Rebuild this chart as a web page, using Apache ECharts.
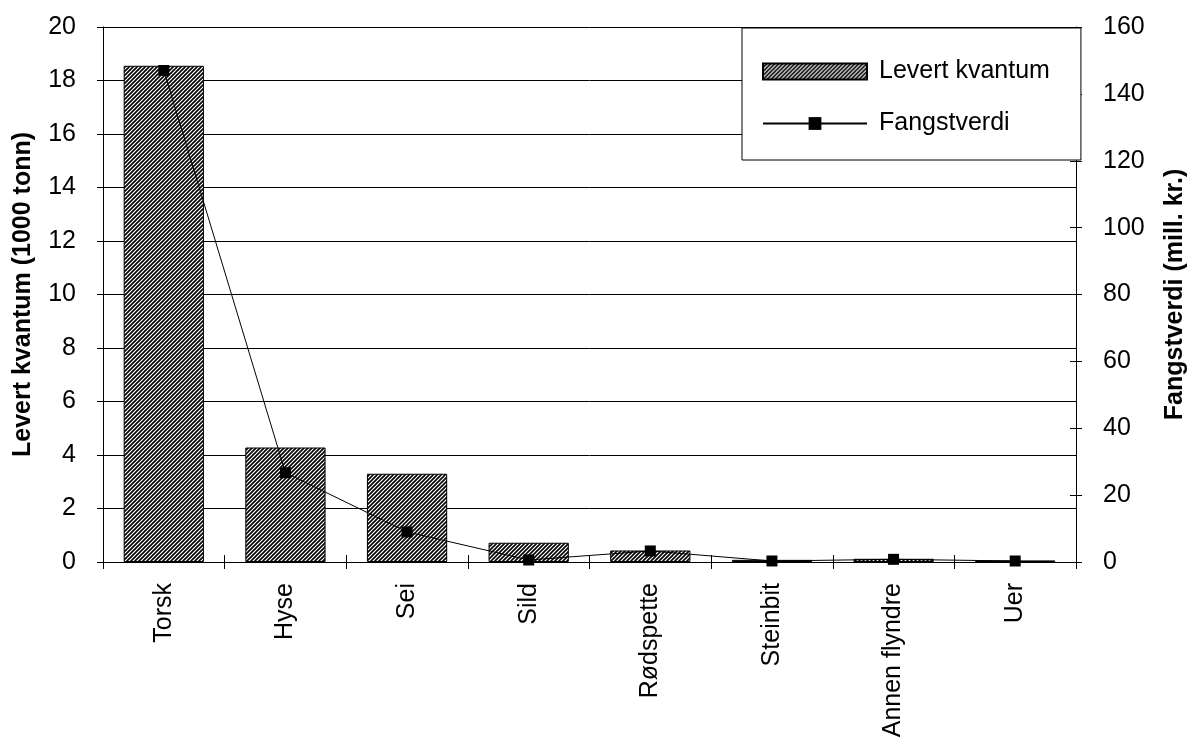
<!DOCTYPE html>
<html>
<head>
<meta charset="utf-8">
<script src="https://cdn.jsdelivr.net/npm/echarts@6/dist/echarts.min.js"></script>
<style>
  html, body { margin: 0; padding: 0; background: #fff; }
  #chart { width: 1196px; height: 749px; }
</style>
</head>
<body>
<div id="chart"></div>
<script>
// Fish species landed
const categories = ['Torsk', 'Hyse', 'Sei', 'Sild', 'Rødspette', 'Steinbit', 'Annen flyndre', 'Uer'];
// Landed quantity, 1000 tonnes (left axis)
const levertKvantum = [18.55, 4.28, 3.3, 0.72, 0.43, 0.08, 0.12, 0.06];
// Catch value, million NOK (right axis)
const fangstverdi = [147, 26.7, 9, 0.6, 3.3, 0.3, 0.8, 0.3];
// Axis ranges
const leftMax = 20, leftStep = 2;
const rightMax = 160, rightStep = 20;

// Diagonal hatch fill for the bars
function hatchPattern() {
  const c = document.createElement('canvas');
  c.width = 4; c.height = 4;
  const g = c.getContext('2d');
  g.fillStyle = '#fff';
  g.fillRect(0, 0, 4, 4);
  g.strokeStyle = '#000';
  g.lineWidth = 1.6;
  g.beginPath();
  g.moveTo(-1, 1); g.lineTo(1, -1);
  g.moveTo(0, 4); g.lineTo(4, 0);
  g.moveTo(3, 5); g.lineTo(5, 3);
  g.stroke();
  return c;
}
const hatch = { image: hatchPattern(), repeat: 'repeat' };

const FONT = '"Liberation Sans", Arial, sans-serif';
const chart = echarts.init(document.getElementById('chart'), null, { renderer: 'canvas' });

chart.setOption({
  animation: false,
  backgroundColor: '#fff',
  textStyle: { fontFamily: FONT, color: '#000' },
  grid: { left: 103, right: 113, top: 27, bottom: 187, containLabel: false },
  legend: {
    left: 742, top: 28,
    orient: 'vertical',
    backgroundColor: '#fff',
    borderColor: '#000', borderWidth: 1,
    padding: [31, 31, 24, 20],
    itemWidth: 104, itemHeight: 16, itemGap: 27,
    textStyle: { fontSize: 25, color: '#000', fontFamily: FONT, padding: [0, 0, 0, 7] },
    data: [{ name: 'Levert kvantum', icon: 'rect' }, { name: 'Fangstverdi' }]
  },
  xAxis: [{
    type: 'category',
    data: categories,
    axisLine: { lineStyle: { color: '#000', width: 1 } },
    axisTick: { show: true, length: 7, lineStyle: { color: '#000' } },
    axisLabel: { rotate: 90, fontSize: 25, color: '#000', margin: 21, fontFamily: FONT }
  }, {
    type: 'category',
    data: categories,
    position: 'bottom',
    axisLine: { show: false },
    axisTick: { show: true, inside: true, length: 7, lineStyle: { color: '#000' } },
    axisLabel: { show: false }
  }],
  yAxis: [{
    type: 'value',
    min: 0, max: leftMax, interval: leftStep,
    name: 'Levert kvantum (1000 tonn)',
    nameLocation: 'middle', nameGap: 67,
    nameTextStyle: { fontSize: 25, fontWeight: 'bold', color: '#000', fontFamily: FONT },
    axisLine: { show: true, lineStyle: { color: '#000', width: 1 } },
    axisTick: { show: true, length: 6, lineStyle: { color: '#000' } },
    axisLabel: { fontSize: 25, color: '#000', margin: 27, fontFamily: FONT },
    splitLine: { show: true, lineStyle: { color: '#000', width: 1 } }
  }, {
    type: 'value',
    position: 'right',
    min: 0, max: rightMax, interval: rightStep,
    name: 'Fangstverdi (mill. kr.)',
    nameLocation: 'middle', nameGap: 87, nameRotate: 90,
    nameTextStyle: { fontSize: 25, fontWeight: 'bold', color: '#000', fontFamily: FONT },
    axisLine: { show: true, lineStyle: { color: '#000', width: 1 } },
    axisTick: { show: true, length: 6, lineStyle: { color: '#000' } },
    axisLabel: { fontSize: 25, color: '#000', margin: 27, fontFamily: FONT },
    splitLine: { show: false }
  }, {
    type: 'value',
    position: 'right',
    min: 0, max: rightMax, interval: rightStep,
    axisLine: { show: false },
    axisTick: { show: true, inside: true, length: 6, lineStyle: { color: '#000' } },
    axisLabel: { show: false },
    splitLine: { show: false }
  }],
  series: [{
    name: 'Levert kvantum',
    type: 'bar',
    data: levertKvantum,
    xAxisIndex: 0, yAxisIndex: 0,
    barCategoryGap: '34%',
    itemStyle: { color: hatch, borderColor: '#000', borderWidth: 1 }
  }, {
    name: 'Fangstverdi',
    type: 'line',
    data: fangstverdi,
    xAxisIndex: 0, yAxisIndex: 1,
    symbol: 'rect', symbolSize: 11,
    lineStyle: { color: '#000', width: 1 },
    itemStyle: { color: '#000' },
    z: 5
  }]
});
</script>
</body>
</html>
